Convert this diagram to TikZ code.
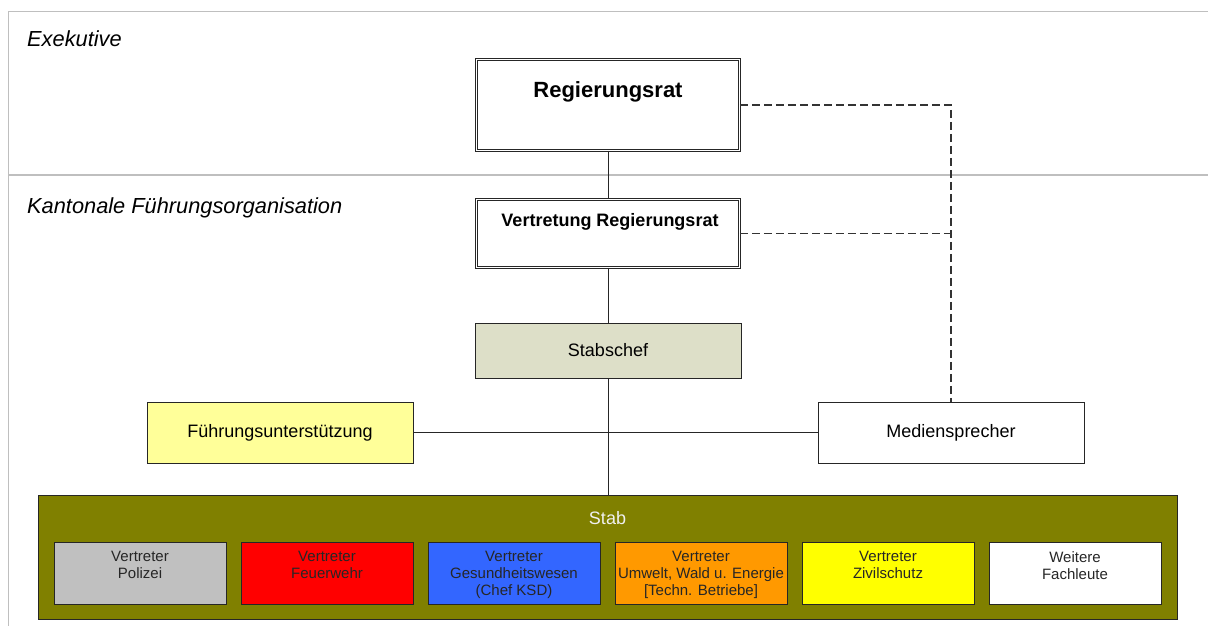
\documentclass[tikz,border=0pt]{standalone}
\usepackage{fontspec}
\setmainfont{Liberation Sans}
\definecolor{framegray}{HTML}{BFBFBF}
\definecolor{chefgreen}{HTML}{DDDFC8}
\definecolor{stabolive}{HTML}{808000}
\definecolor{fuyellow}{HTML}{FFFF99}
\definecolor{polgray}{HTML}{C0C0C0}
\definecolor{fwred}{HTML}{FF0000}
\definecolor{gsblue}{HTML}{3366FF}
\definecolor{uworange}{HTML}{FF9900}
\definecolor{zsyellow}{HTML}{FFFF00}
\tikzset{
  box/.style={draw=black!85, line width=1pt, inner sep=0pt, minimum width=266pt, font=\fontsize{18}{21}\selectfont},
  dbox/.style={draw=black!85, double, double distance=1.6pt, line width=0.7pt, inner sep=0pt, minimum width=263pt},
  vbox/.style={draw=black!85, line width=1pt, inner sep=0pt, minimum width=172pt, minimum height=62pt},
  link/.style={draw=black!85, line width=1pt},
  mlink/.style={draw=black!80, line width=1.1pt, dash pattern=on 8pt off 4pt},
}
\begin{document}
\begin{tikzpicture}[x=1pt,y=-1pt]
  \useasboundingbox (0,0) rectangle (1208,626);
  % frame
  \draw[framegray, line width=1.5pt] (1208,11.5) -- (8.5,11.5) -- (8.5,626);
  \draw[framegray, line width=1.5pt] (8.5,175) -- (1208,175);
  \node[anchor=base west, inner sep=0pt, font=\itshape\fontsize{21.8}{25}\selectfont] (exe) at (27,47) {Exekutive};
  \node[anchor=base west, inner sep=0pt, font=\itshape\fontsize{21.8}{25}\selectfont] (kfo) at (27,213) {Kantonale Führungsorganisation};
  % Exekutive
  \node[dbox, minimum height=91pt] (rr) at (608,105) {};
  \node[font=\bfseries\fontsize{22}{26}\selectfont] (rrt) at (608,92) {Regierungsrat};
  % Fuehrungsorganisation
  \node[dbox, minimum height=68pt] (vrr) at (608,233.5) {};
  \node[font=\bfseries\fontsize{18}{21}\selectfont] (vrrt) at (610,222) {Vertretung Regierungsrat};
  \node[box, fill=chefgreen, minimum height=55pt] (sc) at (608,350.5) {Stabschef};
  \node[box, fill=fuyellow, minimum height=61pt] (fu) at (280,432.5) {Führungsunterstützung};
  \node[box, fill=white, minimum height=61pt] (ms) at (951,432.5) {Mediensprecher};
  \node[draw=black!85, line width=1pt, fill=stabolive, minimum width=1139pt, minimum height=124pt] (stab) at (607.5,557) {};
  \node[text=white!94!black, font=\fontsize{18}{21}\selectfont] (stabt) at (607.5,518) {Stab};
  \foreach \n/\c/\t [count=\i from 0] in {pol/polgray/{Vertreter\\Polizei}, fw/fwred/{Vertreter\\Feuerwehr},
      gs/gsblue/{Vertreter\\Gesundheitswesen\\(Chef KSD)}, uwe/uworange/{Vertreter\\Umwelt, Wald u. Energie\\{[Techn. Betriebe]}},
      zs/zsyellow/{Vertreter\\Zivilschutz}, wf/white/{Weitere\\Fachleute}} {
    \node[vbox, fill=\c] (\n) at (140+187*\i,573) {};
    \node[anchor=north, align=center, inner sep=0pt, text=black!85, font=\fontsize{15}{17}\selectfont] (\n-t) at ([yshift=-9.5pt]\n.north) {\t};
  }
  % connectors
  \draw[link] (rr) -- (vrr);
  \draw[link] (vrr) -- (sc);
  \draw[link] (sc.south) -- (sc.south |- stab.north);
  \draw[link] (fu) -- (ms);
  \draw[mlink] (rr.east) -| (ms.north);
  \draw[mlink] (vrr.east) -- (vrr.east -| ms.north);
\end{tikzpicture}
\end{document}
